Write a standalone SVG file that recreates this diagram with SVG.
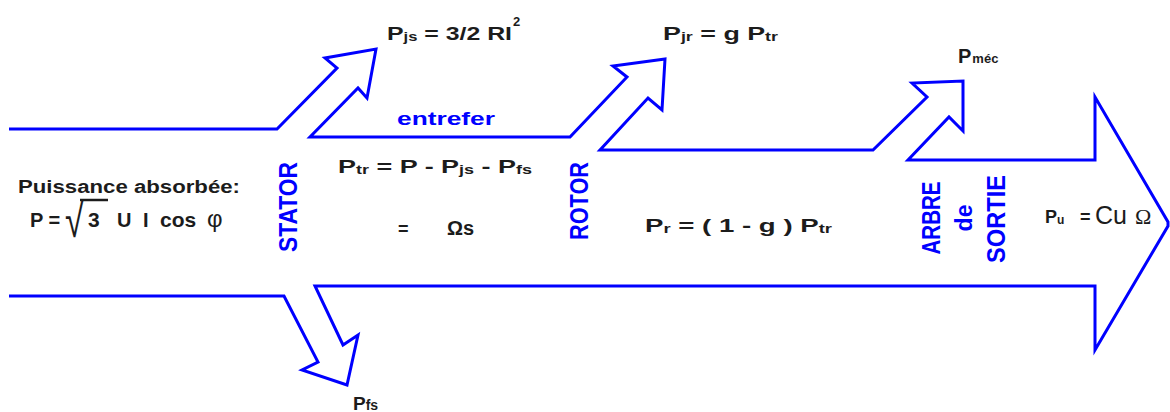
<svg xmlns="http://www.w3.org/2000/svg" width="1170" height="412" viewBox="0 0 1170 412">
<style>
.t{font-family:"Liberation Sans",Arial,sans-serif;font-weight:bold;font-size:18px;fill:#1c1c1c}
.s{font-size:12px}
.b{font-family:"Liberation Sans",Arial,sans-serif;font-weight:bold;fill:#0000ff}
.v{font-size:25px;text-anchor:middle}
.flow{fill:none;stroke:#0000ff;stroke-width:3;stroke-linejoin:miter}
</style>
<rect width="1170" height="412" fill="#ffffff"/>
<g id="connectors">
<path class="flow" d="M9,129 L277,129 L337,68 L325,58 L376,49 L367,98 L358,88 L310,137 L570,137 L627,77 L613,66 L665,59 L662,110 L648,98 L600,150 L873,150 L927,97 L912,83 L963,81 L963,131 L949,117 L908,160 L1095,160 L1095,97 L1168,222 L1168,226 L1095,350 L1095,286 L315,286 L343,345 L358,335 L347,385 L302,370 L318,362 L284,296 L9,296"/>
</g>
<g id="input">
<text class="t" x="18" y="193" textLength="222" lengthAdjust="spacingAndGlyphs">Puissance absorbée:</text>
<text class="t" x="30" y="227" style="font-size:20px">P =</text>
<text class="t" transform="translate(65,237) scale(1,1.4)" style="font-weight:normal;font-size:34px">√</text>
<line x1="80" y1="200" x2="108" y2="200" stroke="#1c1c1c" stroke-width="2.5"/>
<text class="t" x="88" y="227" style="font-size:21px">3</text>
<text class="t" x="117" y="227" style="font-size:20px">U</text>
<text class="t" x="143" y="227" style="font-size:20px">I</text>
<text class="t" x="160" y="227" style="font-size:21px">cos</text>
<text class="t" x="207" y="227" style="font-weight:normal;font-size:24px">φ</text>
</g>
<g id="stator">
<text class="b v" transform="translate(297,207) rotate(-90)" textLength="90" lengthAdjust="spacingAndGlyphs">STATOR</text>
</g>
<g id="pjs">
<text class="t" x="387" y="40" textLength="125" lengthAdjust="spacingAndGlyphs">P<tspan class="s" dy="1">js</tspan><tspan dy="-1"> = 3/2 RI</tspan></text>
<text class="t" x="513" y="26" style="font-size:13px">2</text>
</g>
<g id="entrefer">
<text class="b" x="397" y="125" style="font-size:19px" textLength="98" lengthAdjust="spacingAndGlyphs">entrefer</text>
<text class="t" x="338" y="173" textLength="194" lengthAdjust="spacingAndGlyphs">P<tspan class="s" dy="1">tr</tspan><tspan dy="-1"> = P - P</tspan><tspan class="s" dy="1">js</tspan><tspan dy="-1"> - P</tspan><tspan class="s" dy="1">fs</tspan></text>
<text class="t" x="398" y="235">=</text>
<text class="t" x="447" y="235" style="font-size:20px">Ωs</text>
</g>
<g id="pfs">
<text class="t" x="353" y="410" style="font-size:19px">P<tspan style="font-size:14px">fs</tspan></text>
</g>
<g id="rotor">
<text class="b v" transform="translate(588,201) rotate(-90)" textLength="78" lengthAdjust="spacingAndGlyphs">ROTOR</text>
<text class="t" x="645" y="232" textLength="187" lengthAdjust="spacingAndGlyphs">P<tspan class="s" dy="1">r</tspan><tspan dy="-1"> = ( 1 - g ) P</tspan><tspan class="s" dy="1">tr</tspan></text>
</g>
<g id="pjr">
<text class="t" x="663" y="40" textLength="115" lengthAdjust="spacingAndGlyphs">P<tspan class="s" dy="1">jr</tspan><tspan dy="-1"> = g P</tspan><tspan class="s" dy="1">tr</tspan></text>
</g>
<g id="pmec">
<text class="t" x="958" y="63" style="font-size:20px">P<tspan style="font-size:13px" dx="1">méc</tspan></text>
</g>
<g id="arbre">
<text class="b v" transform="translate(940,218) rotate(-90)" textLength="73" lengthAdjust="spacingAndGlyphs">ARBRE</text>
<text class="b v" transform="translate(972,218) rotate(-90)" style="font-size:23px">de</text>
<text class="b v" transform="translate(1005,219) rotate(-90)" textLength="88" lengthAdjust="spacingAndGlyphs">SORTIE</text>
</g>
<g id="pu">
<text class="t" x="1045" y="223">P<tspan class="s" dy="1">u</tspan></text>
<text class="t" x="1080" y="223">=</text>
<text x="1095" y="224" style="font-family:'Liberation Sans',Arial,sans-serif;font-size:25px;fill:#1c1c1c">Cu</text>
<text x="1135" y="224" style="font-family:'Liberation Serif','Times New Roman',serif;font-size:22px;fill:#1c1c1c">Ω</text>
</g>
</svg>
